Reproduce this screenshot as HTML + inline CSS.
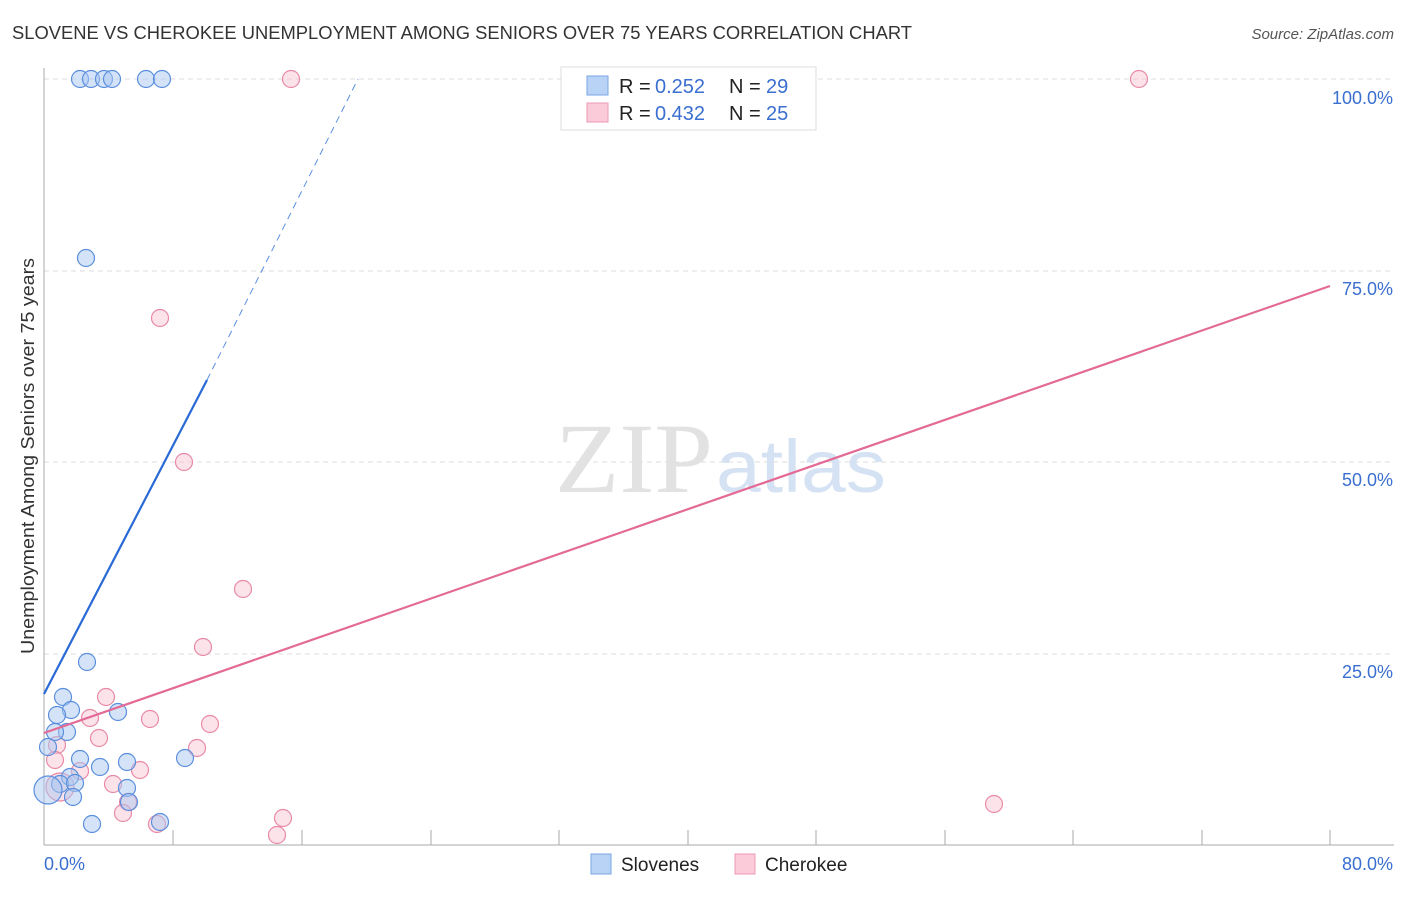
<!DOCTYPE html>
<html><head><meta charset="utf-8"><style>
body{margin:0;background:#fff;font-family:"Liberation Sans",sans-serif;}
</style></head><body>
<svg width="1406" height="892" xmlns="http://www.w3.org/2000/svg" font-family="Liberation Sans, sans-serif">
<text x="12" y="39" font-size="18" fill="#333" textLength="900" lengthAdjust="spacingAndGlyphs">SLOVENE VS CHEROKEE UNEMPLOYMENT AMONG SENIORS OVER 75 YEARS CORRELATION CHART</text>
<text x="1394" y="39" font-size="15" fill="#555" font-style="italic" text-anchor="end">Source: ZipAtlas.com</text>
<g stroke="#ddd" stroke-dasharray="5,4" stroke-width="1">
<line x1="44" y1="79" x2="1394" y2="79"/><line x1="44" y1="271" x2="1394" y2="271"/><line x1="44" y1="462" x2="1394" y2="462"/><line x1="44" y1="654" x2="1394" y2="654"/>
</g>
<line x1="44" y1="68" x2="44" y2="845" stroke="#aaa"/>
<line x1="44" y1="845" x2="1394" y2="845" stroke="#aaa"/>
<g stroke="#aaa">
<line x1="173" y1="830" x2="173" y2="845"/><line x1="302" y1="830" x2="302" y2="845"/><line x1="431" y1="830" x2="431" y2="845"/><line x1="559" y1="830" x2="559" y2="845"/><line x1="688" y1="830" x2="688" y2="845"/><line x1="816" y1="830" x2="816" y2="845"/><line x1="945" y1="830" x2="945" y2="845"/><line x1="1073" y1="830" x2="1073" y2="845"/><line x1="1202" y1="830" x2="1202" y2="845"/><line x1="1330" y1="830" x2="1330" y2="845"/>
</g>
<g font-size="18" fill="#3a6fd0" text-anchor="end">
<text x="1393" y="104">100.0%</text><text x="1393" y="295">75.0%</text><text x="1393" y="486">50.0%</text><text x="1393" y="678">25.0%</text>
</g>
<text x="44" y="870" font-size="18" fill="#3a6fd0">0.0%</text>
<text x="1393" y="870" font-size="18" fill="#3a6fd0" text-anchor="end">80.0%</text>
<text transform="translate(34,456) rotate(-90)" font-size="18" fill="#333" text-anchor="middle" textLength="396" lengthAdjust="spacingAndGlyphs">Unemployment Among Seniors over 75 years</text>
<text x="555" y="492" font-size="100" fill="#e2e2e2" font-family="Liberation Serif, serif" textLength="158" lengthAdjust="spacingAndGlyphs">ZIP</text>
<text x="716" y="492" font-size="74" fill="#d5e2f3" textLength="170" lengthAdjust="spacingAndGlyphs">atlas</text>
<g fill="#f9c5d3" fill-opacity="0.5" stroke="#e88aa6" stroke-width="1.2">
<circle cx="291" cy="79" r="8.5"/><circle cx="1139" cy="79" r="8.5"/><circle cx="160" cy="318" r="8.5"/><circle cx="184" cy="462" r="8.5"/><circle cx="243" cy="589" r="8.5"/><circle cx="203" cy="647" r="8.5"/><circle cx="994" cy="804" r="8.5"/>
<circle cx="106" cy="697" r="8.5"/><circle cx="90" cy="718" r="8.5"/><circle cx="150" cy="719" r="8.5"/><circle cx="210" cy="724" r="8.5"/><circle cx="197" cy="748" r="8.5"/><circle cx="99" cy="738" r="8.5"/><circle cx="57" cy="745" r="8.5"/><circle cx="55" cy="760" r="8.5"/><circle cx="80" cy="771" r="8.5"/><circle cx="140" cy="770" r="8.5"/><circle cx="113" cy="784" r="8.5"/><circle cx="128" cy="802" r="8.5"/><circle cx="123" cy="813" r="8.5"/><circle cx="157" cy="824" r="8.5"/><circle cx="277" cy="835" r="8.5"/><circle cx="283" cy="818" r="8.5"/><circle cx="60" cy="787" r="14"/>
</g>
<g fill="#a9c8f2" fill-opacity="0.5" stroke="#5b8fdd" stroke-width="1.2">
<circle cx="80" cy="79" r="8.5"/><circle cx="91" cy="79" r="8.5"/><circle cx="104" cy="79" r="8.5"/><circle cx="112" cy="79" r="8.5"/><circle cx="146" cy="79" r="8.5"/><circle cx="162" cy="79" r="8.5"/><circle cx="86" cy="258" r="8.5"/>
<circle cx="87" cy="662" r="8.5"/><circle cx="63" cy="697" r="8.5"/><circle cx="71" cy="710" r="8.5"/><circle cx="57" cy="715" r="8.5"/><circle cx="118" cy="712" r="8.5"/><circle cx="67" cy="732" r="8.5"/><circle cx="55" cy="732" r="8.5"/><circle cx="48" cy="747" r="8.5"/><circle cx="80" cy="759" r="8.5"/><circle cx="100" cy="767" r="8.5"/><circle cx="127" cy="762" r="8.5"/><circle cx="185" cy="758" r="8.5"/><circle cx="70" cy="777" r="8.5"/><circle cx="60" cy="784" r="8.5"/><circle cx="75" cy="783" r="8.5"/><circle cx="127" cy="788" r="8.5"/><circle cx="73" cy="797" r="8.5"/><circle cx="129" cy="802" r="8.5"/><circle cx="92" cy="824" r="8.5"/><circle cx="160" cy="822" r="8.5"/><circle cx="48" cy="790" r="14"/>
</g>
<line x1="44" y1="694" x2="207" y2="380" stroke="#2a6ad6" stroke-width="2.2"/>
<line x1="207" y1="380" x2="358" y2="79" stroke="#5b8fdd" stroke-width="1" stroke-dasharray="7,5"/>
<line x1="44" y1="733" x2="1330" y2="286" stroke="#e46a96" stroke-width="2.2"/>
<rect x="561" y="67" width="255" height="63" fill="#fff" stroke="#ddd"/>
<rect x="587" y="76" width="21" height="19" fill="#b9d3f6" stroke="#7aa4e4"/>
<rect x="587" y="103" width="21" height="19" fill="#fbcbd9" stroke="#ec98b2"/>
<g font-size="20" fill="#222">
<text x="619" y="93">R =</text><text x="729" y="93">N =</text>
<text x="619" y="120">R =</text><text x="729" y="120">N =</text>
</g>
<g font-size="20" fill="#3a6fd0">
<text x="655" y="93">0.252</text><text x="766" y="93">29</text>
<text x="655" y="120">0.432</text><text x="766" y="120">25</text>
</g>
<rect x="591" y="854" width="20" height="20" fill="#b9d3f6" stroke="#7aa4e4"/>
<text x="621" y="871" font-size="19" fill="#222">Slovenes</text>
<rect x="735" y="854" width="20" height="20" fill="#fbcbd9" stroke="#ec98b2"/>
<text x="765" y="871" font-size="19" fill="#222">Cherokee</text>
</svg>
</body></html>
